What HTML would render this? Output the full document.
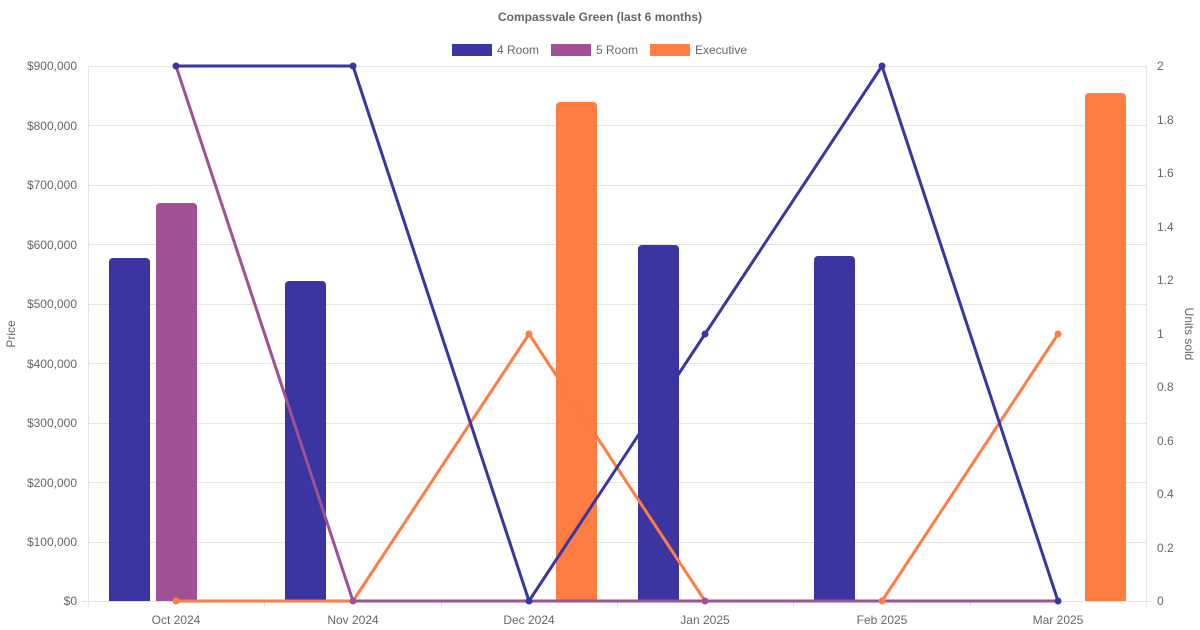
<!DOCTYPE html>
<html><head><meta charset="utf-8"><style>
html,body{margin:0;padding:0;background:#fff;}
svg{display:block;font-family:"Liberation Sans",Arial,sans-serif;}
</style></head><body>
<svg width="1200" height="630" viewBox="0 0 1200 630" xmlns="http://www.w3.org/2000/svg">
<rect width="1200" height="630" fill="#fff"/>
<text x="600" y="21" text-anchor="middle" font-size="12" font-weight="bold" fill="#666">Compassvale Green (last 6 months)</text>
<!-- legend -->
<rect x="452" y="44" width="40" height="12" fill="#3a35a0"/><text x="497" y="54" font-size="12" fill="#666">4 Room</text>
<rect x="551" y="44" width="40" height="12" fill="#a05195"/><text x="596" y="54" font-size="12" fill="#666">5 Room</text>
<rect x="650" y="44" width="40" height="12" fill="#ff7c43"/><text x="695" y="54" font-size="12" fill="#666">Executive</text>
<!-- grid -->
<g stroke="#e5e5e5" stroke-width="1">
<line x1="88" x2="1146" y1="66.5" y2="66.5"/><line x1="88" x2="1146" y1="125.5" y2="125.5"/><line x1="88" x2="1146" y1="185.5" y2="185.5"/><line x1="88" x2="1146" y1="244.5" y2="244.5"/><line x1="88" x2="1146" y1="304.5" y2="304.5"/><line x1="88" x2="1146" y1="363.5" y2="363.5"/><line x1="88" x2="1146" y1="423.5" y2="423.5"/><line x1="88" x2="1146" y1="482.5" y2="482.5"/><line x1="88" x2="1146" y1="542.5" y2="542.5"/><line x1="82" x2="1152" y1="601.5" y2="601.5"/>
<line x1="88.5" x2="88.5" y1="66" y2="607"/><line x1="1146.5" x2="1146.5" y1="66" y2="607"/>
<line x1="264.5" x2="264.5" y1="601" y2="607"/><line x1="441.5" x2="441.5" y1="601" y2="607"/><line x1="617.5" x2="617.5" y1="601" y2="607"/><line x1="793.5" x2="793.5" y1="601" y2="607"/><line x1="970.5" x2="970.5" y1="601" y2="607"/>
</g>
<g font-size="12" fill="#666" text-anchor="end">
<text x="77" y="70">$900,000</text><text x="77" y="130">$800,000</text><text x="77" y="189">$700,000</text><text x="77" y="249">$600,000</text><text x="77" y="308">$500,000</text><text x="77" y="368">$400,000</text><text x="77" y="427">$300,000</text><text x="77" y="487">$200,000</text><text x="77" y="546">$100,000</text><text x="77" y="605">$0</text>
</g>
<g font-size="12" fill="#666" text-anchor="start">
<text x="1157" y="70">2</text><text x="1157" y="124">1.8</text><text x="1157" y="177">1.6</text><text x="1157" y="231">1.4</text><text x="1157" y="284">1.2</text><text x="1157" y="338">1</text><text x="1157" y="391">0.8</text><text x="1157" y="445">0.6</text><text x="1157" y="498">0.4</text><text x="1157" y="552">0.2</text><text x="1157" y="605">0</text>
</g>
<g font-size="12" fill="#666" text-anchor="middle">
<text x="176" y="624">Oct 2024</text><text x="353" y="624">Nov 2024</text><text x="529" y="624">Dec 2024</text><text x="705" y="624">Jan 2025</text><text x="882" y="624">Feb 2025</text><text x="1058" y="624">Mar 2025</text>
</g>
<text transform="translate(15,334) rotate(-90)" font-size="12" fill="#666" text-anchor="middle">Price</text>
<text transform="translate(1185,334) rotate(90)" font-size="12" fill="#666" text-anchor="middle">Units sold</text>
<!-- bars -->
<g>
<path d="M109 601V262a4 4 0 0 1 4-4h33a4 4 0 0 1 4 4V601Z" fill="#3a35a0"/>
<path d="M156 601V207a4 4 0 0 1 4-4h33a4 4 0 0 1 4 4V601Z" fill="#a05195"/>
<path d="M285 601V285a4 4 0 0 1 4-4h33a4 4 0 0 1 4 4V601Z" fill="#3a35a0"/>
<path d="M556 601V106a4 4 0 0 1 4-4h33a4 4 0 0 1 4 4V601Z" fill="#ff7c43"/>
<path d="M638 601V249a4 4 0 0 1 4-4h33a4 4 0 0 1 4 4V601Z" fill="#3a35a0"/>
<path d="M814 601V260a4 4 0 0 1 4-4h33a4 4 0 0 1 4 4V601Z" fill="#3a35a0"/>
<path d="M1085 601V97a4 4 0 0 1 4-4h33a4 4 0 0 1 4 4V601Z" fill="#ff7c43"/>
</g>
<!-- lines -->
<g fill="none" stroke-width="3" stroke-linejoin="round">
<polyline stroke="#ff7c43" points="176,601 353,601 529,334 705,601 882,601 1058,334"/>
<polyline stroke="#a05195" points="176,66 353,601 529,601 705,601 882,601 1058,601"/>
<polyline stroke="#3a35a0" points="176,66 353,66 529,601 705,334 882,66 1058,601"/>
</g>
<g fill="#ff7c43"><circle cx="176" cy="601" r="3.5"/><circle cx="529" cy="334" r="3.5"/><circle cx="1058" cy="334" r="3.5"/><circle cx="882" cy="601" r="3.5"/></g>
<g fill="#a05195"><circle cx="353" cy="601" r="3.5"/><circle cx="705" cy="601" r="3.5"/></g>
<g fill="#3a35a0"><circle cx="176" cy="66" r="3.5"/><circle cx="353" cy="66" r="3.5"/><circle cx="529" cy="601" r="3.5"/><circle cx="705" cy="334" r="3.5"/><circle cx="882" cy="66" r="3.5"/><circle cx="1058" cy="601" r="3.5"/></g>
</svg>
</body></html>
